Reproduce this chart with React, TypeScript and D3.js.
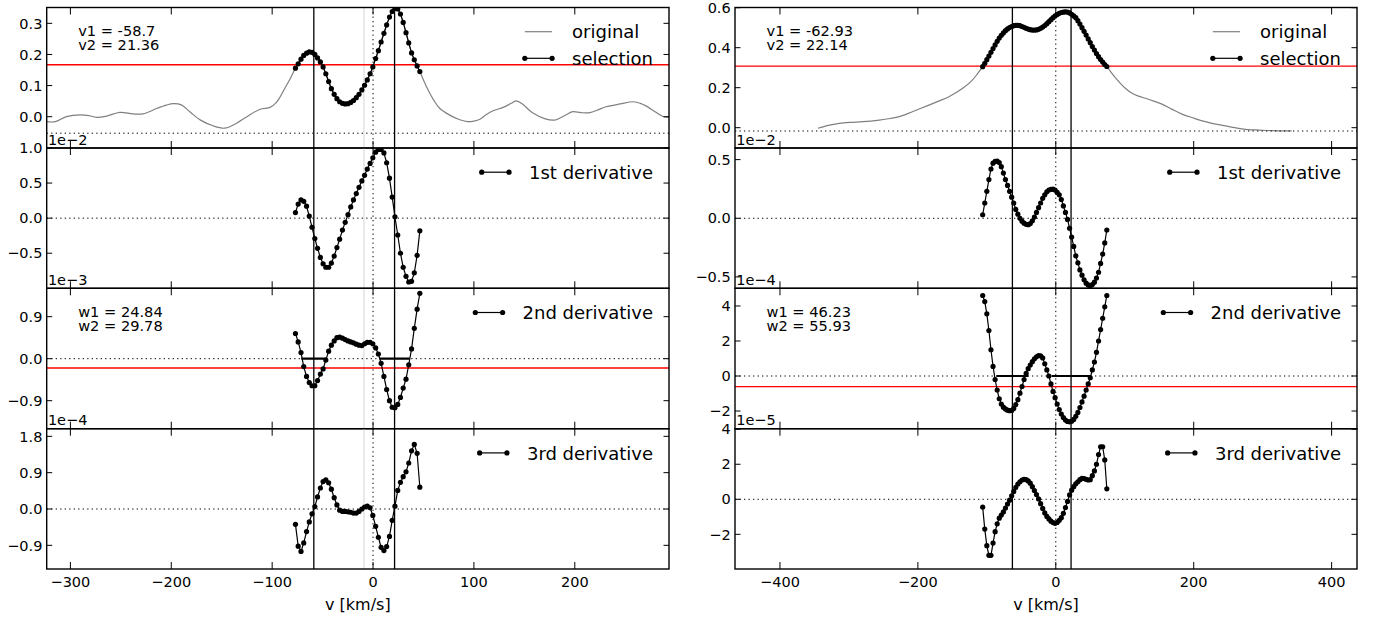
import React from "react";
import * as d3 from "d3";

type Pt = [number, number];

const FONT = "'DejaVu Sans', sans-serif";
const PANEL_EDGES = [7.5, 148, 288.3, 428.7, 569];

// ---------------- LEFT FIGURE DATA ----------------
const L_V1 = -58.7;
const L_V2 = 21.36;
const L_W1 = 24.84;
const L_W2 = 29.78;
const L_MARK = -9;
const L_XTICKS = [-300, -200, -100, 0, 100, 200];
const L_V = [
  -76.9, -74.2, -71.4, -68.7, -65.9, -63.2, -60.5, -57.7, -55.0, -52.2, -49.5, -46.8, -44.0, -41.3, -38.5, -35.8,
  -33.1, -30.3, -27.6, -24.8, -22.1, -19.4, -16.6, -13.9, -11.1, -8.4, -5.7, -2.9, -0.2, 2.6, 5.3, 8.0, 10.8, 13.5,
  16.3, 19.0, 21.7, 24.5, 27.2, 29.9, 32.7, 35.4, 38.2, 40.9, 43.7, 46.4,
];
const L_SEL = [
  0.156, 0.17, 0.185, 0.197, 0.204, 0.208, 0.207, 0.2, 0.189, 0.176, 0.16, 0.138, 0.113, 0.09, 0.072, 0.058, 0.048,
  0.043, 0.041, 0.042, 0.046, 0.052, 0.061, 0.072, 0.086, 0.101, 0.118, 0.138, 0.16, 0.187, 0.212, 0.24, 0.268, 0.295,
  0.32, 0.338, 0.348, 0.346, 0.33, 0.303, 0.27, 0.237, 0.205, 0.183, 0.163, 0.145,
];
const L_D1 = [
  0.08, 0.2, 0.26, 0.24, 0.17, 0.03, -0.13, -0.29, -0.43, -0.56, -0.65, -0.7, -0.7, -0.64, -0.54, -0.42, -0.3, -0.17,
  -0.06, 0.05, 0.16, 0.26, 0.35, 0.44, 0.53, 0.61, 0.7, 0.78, 0.86, 0.94, 0.98, 0.98, 0.93, 0.79, 0.57, 0.3, 0.02,
  -0.24, -0.5, -0.7, -0.83, -0.91, -0.9, -0.78, -0.53, -0.18,
];
const L_D2 = [
  0.54, 0.36, 0.13, -0.17, -0.38, -0.51, -0.58, -0.58, -0.47, -0.33, -0.22, -0.03, 0.16, 0.29, 0.38, 0.45, 0.46, 0.44,
  0.41, 0.38, 0.36, 0.34, 0.31, 0.29, 0.28, 0.32, 0.35, 0.35, 0.32, 0.23, 0.1, -0.1, -0.38, -0.66, -0.9, -1.04, -1.05,
  -0.98, -0.83, -0.63, -0.44, -0.13, 0.21, 0.65, 1.06, 1.4,
];
const L_D3 = [
  -0.38, -0.92, -1.05, -0.84, -0.56, -0.32, -0.12, 0.06, 0.3, 0.52, 0.68, 0.72, 0.65, 0.49, 0.28, 0.1, -0.03, -0.06,
  -0.06, -0.07, -0.08, -0.1, -0.1, -0.06, 0.0, 0.05, 0.07, 0.03, -0.16, -0.43, -0.7, -0.95, -1.03, -0.93, -0.68, -0.28,
  0.07, 0.46, 0.66, 0.8, 0.92, 1.14, 1.44, 1.6, 1.38, 0.54,
];
const L_ORIG_BEFORE: Pt[] = [
  [-323.5, -0.016], [-315, -0.016], [-304, 0.0], [-290, 0.006], [-281, 0.003], [-274, -0.002], [-264, 0.002],
  [-251, 0.014], [-238, 0.009], [-228, 0.009], [-214, 0.027], [-205, 0.037], [-198, 0.042], [-190, 0.038],
  [-181, 0.014], [-171, -0.011], [-158, -0.03], [-147, -0.037], [-138, -0.026], [-125, 0.0], [-112, 0.024],
  [-102, 0.03], [-96, 0.045], [-92, 0.064], [-87, 0.094], [-82, 0.123],
];
const L_ORIG_AFTER: Pt[] = [
  [50, 0.118], [53, 0.096], [60, 0.054], [66, 0.027], [76, 0.005], [86, -0.01], [94, -0.016], [100, -0.014],
  [106, -0.008], [112, 0.006], [119, 0.019], [129, 0.03], [137, 0.043], [142, 0.051], [147, 0.043], [159, 0.011],
  [170, -0.006], [180, -0.011], [190, 0.004], [198, 0.016], [206, 0.013], [215, 0.013], [223, 0.022], [231, 0.032],
  [245, 0.041], [258, 0.048], [265, 0.043], [271, 0.034], [280, 0.015], [288, 0.0], [293.4, -0.002],
];

// ---------------- RIGHT FIGURE DATA ----------------
const R_V1 = -62.93;
const R_V2 = 22.14;
const R_W1 = 46.23;
const R_W2 = 55.93;
const R_XTICKS = [-400, -200, 0, 200, 400];
const R_V = [
  -106, -103, -100, -97, -94, -91, -88, -85, -82, -79, -76, -73, -70, -67, -64, -61, -58, -55, -52, -49, -46, -43, -40,
  -37, -34, -31, -28, -25, -22, -19, -16, -13, -10, -7, -4, -1, 2, 5, 8, 11, 14, 17, 20, 23, 26, 29, 32, 35, 38, 41, 44,
  47, 50, 53, 56, 59, 62, 65, 68, 71, 74,
];
const R_SEL = [
  0.305, 0.322, 0.34, 0.358, 0.377, 0.396, 0.414, 0.432, 0.448, 0.462, 0.474, 0.485, 0.494, 0.501, 0.506, 0.51, 0.512,
  0.512, 0.51, 0.506, 0.502, 0.497, 0.493, 0.49, 0.488, 0.488, 0.489, 0.492, 0.497, 0.503, 0.511, 0.52, 0.53, 0.54,
  0.55, 0.559, 0.566, 0.572, 0.576, 0.578, 0.579, 0.578, 0.574, 0.567, 0.559, 0.55, 0.535, 0.518, 0.5, 0.482, 0.463,
  0.444, 0.425, 0.406, 0.388, 0.371, 0.355, 0.341, 0.328, 0.316, 0.306,
];
const R_D1 = [
  0.03, 0.13, 0.23, 0.33, 0.42, 0.47, 0.485, 0.487, 0.475, 0.44, 0.385, 0.33, 0.28, 0.23, 0.18, 0.13, 0.075, 0.035,
  0.0, -0.025, -0.042, -0.052, -0.055, -0.045, -0.022, 0.01, 0.05, 0.09, 0.13, 0.17, 0.2, 0.225, 0.24, 0.247, 0.248,
  0.24, 0.22, 0.2, 0.16, 0.105, 0.05, -0.01, -0.085, -0.16, -0.24, -0.32, -0.38, -0.44, -0.485, -0.525, -0.553,
  -0.568, -0.575, -0.565, -0.545, -0.51, -0.46, -0.385, -0.305, -0.21, -0.1,
];
const R_D2 = [
  4.6, 4.25, 3.55, 2.6, 1.5, 0.55, -0.2, -0.8, -1.3, -1.6, -1.78, -1.88, -1.95, -1.98, -1.97, -1.85, -1.63, -1.35,
  -0.98, -0.6, -0.2, 0.15, 0.42, 0.63, 0.82, 0.98, 1.1, 1.17, 1.15, 1.03, 0.7, 0.35, 0.0, -0.45, -0.88, -1.24, -1.6,
  -1.92, -2.17, -2.37, -2.52, -2.6, -2.62, -2.58, -2.48, -2.3, -2.08, -1.8, -1.48, -1.15, -0.8, -0.45, -0.1, 0.35,
  0.8, 1.35, 2.0, 2.65, 3.3, 3.95, 4.6,
];
const R_D3 = [
  -0.45, -1.7, -2.65, -3.2, -3.2, -2.5, -1.85, -1.4, -1.08, -0.9, -0.72, -0.5, -0.27, -0.05, 0.2, 0.45, 0.68, 0.87,
  1.0, 1.1, 1.14, 1.12, 1.05, 0.92, 0.72, 0.5, 0.27, 0.02, -0.25, -0.52, -0.78, -0.98, -1.12, -1.25, -1.33, -1.37,
  -1.32, -1.2, -1.05, -0.8, -0.48, -0.12, 0.25, 0.52, 0.72, 0.88, 1.0, 1.12, 1.2, 1.18, 1.14, 1.1, 1.12, 1.35, 1.62,
  2.0, 2.55, 3.0, 3.0, 2.25, 0.6,
];
const R_ORIG_BEFORE: Pt[] = [
  [-345, -0.003], [-330, 0.012], [-314, 0.022], [-297, 0.027], [-280, 0.03], [-256, 0.038], [-240, 0.046],
  [-227, 0.055], [-208, 0.08], [-184, 0.113], [-170, 0.133], [-155, 0.155], [-135, 0.197], [-121, 0.238],
  [-114, 0.268],
];
const R_ORIG_AFTER: Pt[] = [
  [80, 0.278], [86, 0.252], [91.5, 0.23], [100, 0.2], [110.7, 0.172], [120, 0.158], [130, 0.147], [142, 0.133],
  [154, 0.118], [168, 0.093], [183, 0.068], [200, 0.048], [217, 0.03], [230, 0.019], [246, 0.009], [260, 0.0],
  [275, -0.008], [295, -0.012], [313, -0.015], [342, -0.016],
];

// ---------------- configuration ----------------
interface PanelCfg {
  yDomain: [number, number];
  yTicks: number[];
  fmt: string;
  y: number[];
  label?: string;
  before?: Pt[];
  after?: Pt[];
  red?: number;
  hdot: number;
  annot?: string[];
  widths?: boolean;
  offset?: string;
}
interface FigCfg {
  id: string;
  left: number;
  right: number;
  xDomain: [number, number];
  xTicks: number[];
  v: number[];
  v1: number;
  v2: number;
  w1: number;
  w2: number;
  mark?: number;
  panels: PanelCfg[];
}

const LEFT_FIG: FigCfg = {
  id: "L",
  left: 46.7,
  right: 669,
  xDomain: [-323.5, 293.4],
  xTicks: L_XTICKS,
  v: L_V,
  v1: L_V1,
  v2: L_V2,
  w1: L_W1,
  w2: L_W2,
  mark: L_MARK,
  panels: [
    {
      yDomain: [-0.1006, 0.3509], yTicks: [0, 0.1, 0.2, 0.3], fmt: ".1f", y: L_SEL,
      before: L_ORIG_BEFORE, after: L_ORIG_AFTER, red: 0.167, hdot: -0.053,
      annot: [`v1 = ${L_V1}`, `v2 = ${L_V2}`],
    },
    { yDomain: [-1.0, 1.0], yTicks: [-0.5, 0, 0.5, 1.0], fmt: ".1f", y: L_D1, label: "1st derivative", hdot: 0, offset: "1e\u22122" },
    {
      yDomain: [-1.5, 1.508], yTicks: [-0.9, 0, 0.9], fmt: ".1f", y: L_D2, label: "2nd derivative", hdot: 0,
      red: -0.2, annot: [`w1 = ${L_W1}`, `w2 = ${L_W2}`], widths: true, offset: "1e\u22123",
    },
    { yDomain: [-1.486, 1.989], yTicks: [-0.9, 0, 0.9, 1.8], fmt: ".1f", y: L_D3, label: "3rd derivative", hdot: 0, offset: "1e\u22124" },
  ],
};

const RIGHT_FIG: FigCfg = {
  id: "R",
  left: 735,
  right: 1357,
  xDomain: [-465.2, 436.8],
  xTicks: R_XTICKS,
  v: R_V,
  v1: R_V1,
  v2: R_V2,
  w1: R_W1,
  w2: R_W2,
  panels: [
    {
      yDomain: [-0.1015, 0.601], yTicks: [0, 0.2, 0.4, 0.6], fmt: ".1f", y: R_SEL,
      before: R_ORIG_BEFORE, after: R_ORIG_AFTER, red: 0.308, hdot: -0.0165,
      annot: [`v1 = ${R_V1}`, `v2 = ${R_V2}`],
    },
    { yDomain: [-0.597, 0.599], yTicks: [-0.5, 0, 0.5], fmt: ".1f", y: R_D1, label: "1st derivative", hdot: 0, offset: "1e\u22122" },
    {
      yDomain: [-3.01, 5.01], yTicks: [-2, 0, 2, 4], fmt: "d", y: R_D2, label: "2nd derivative", hdot: 0,
      red: -0.61, annot: [`w1 = ${R_W1}`, `w2 = ${R_W2}`], widths: true, offset: "1e\u22124",
    },
    { yDomain: [-3.98, 4.03], yTicks: [-2, 0, 2, 4], fmt: "d", y: R_D3, label: "3rd derivative", hdot: 0, offset: "1e\u22125" },
  ],
};

let measureCtx: CanvasRenderingContext2D | null = null;
function measure(s: string, font: string): number {
  if (!measureCtx) measureCtx = document.createElement("canvas").getContext("2d");
  if (!measureCtx) return s.length * 10;
  measureCtx.font = font;
  return measureCtx.measureText(s).width;
}

const DOT = "1.3 3.2";
const TICK_FS = 14.5;
const LEG_FS = 18;
const ANNOT_FS = 14.6;

function Figure({ f }: { f: FigCfg }) {
  const x = d3.scaleLinear().domain(f.xDomain).range([f.left, f.right]);
  const xt = f.xTicks;
  return (
    <g>
      {f.panels.map((p, i) => {
        const top = PANEL_EDGES[i];
        const bot = PANEL_EDGES[i + 1];
        const y = d3.scaleLinear().domain(p.yDomain).range([bot, top]);
        const pts: Pt[] = f.v.map((v, k) => [v, p.y[k]]);
        const line = d3.line<Pt>().x((d) => x(d[0])).y((d) => y(d[1]));
        const smooth = d3
          .line<Pt>()
          .x((d) => x(d[0]))
          .y((d) => y(d[1]))
          .curve(d3.curveCatmullRom.alpha(0.5));
        const fmt = d3.format(p.fmt);
        const clip = `${f.id}clip${i}`;
        const entries = p.before
          ? [
              { label: "original", kind: "gray" },
              { label: "selection", kind: "sel" },
            ]
          : [{ label: p.label || "", kind: "sel" }];
        const maxW = Math.max(...entries.map((e) => measure(e.label, `${LEG_FS}px DejaVu Sans`)));
        const tx = f.right - 16 - maxW;
        const orig = p.before ? [...p.before, ...pts, ...(p.after || [])] : null;
        return (
          <g key={i}>
            <defs>
              <clipPath id={clip}>
                <rect x={f.left} y={top} width={f.right - f.left} height={bot - top} />
              </clipPath>
            </defs>
            <g clipPath={`url(#${clip})`}>
              {f.mark !== undefined && (
                <line x1={x(f.mark)} x2={x(f.mark)} y1={top} y2={bot} stroke="#e3e3e3" strokeWidth={1.5} />
              )}
              {orig && <path d={smooth(orig) || ""} fill="none" stroke="#808080" strokeWidth={1.2} />}
              <line x1={f.left} x2={f.right} y1={y(p.hdot)} y2={y(p.hdot)} stroke="#000" strokeWidth={1} strokeDasharray={DOT} />
              <line x1={x(0)} x2={x(0)} y1={top} y2={bot} stroke="#000" strokeWidth={1} strokeDasharray={DOT} />
              {p.red !== undefined && (
                <line x1={f.left} x2={f.right} y1={y(p.red)} y2={y(p.red)} stroke="#ff0000" strokeWidth={1.3} />
              )}
              <path d={line(pts) || ""} fill="none" stroke="#000" strokeWidth={1.2} />
              {pts.map((d, k) => (
                <circle key={k} cx={x(d[0])} cy={y(d[1])} r={2.6} fill="#000" />
              ))}
              {p.widths && (
                <g stroke="#000" strokeWidth={2.2}>
                  <line x1={x(f.v1 - f.w1 / 2)} x2={x(f.v1 + f.w1 / 2)} y1={y(0)} y2={y(0)} />
                  <line x1={x(f.v2 - f.w2 / 2)} x2={x(f.v2 + f.w2 / 2)} y1={y(0)} y2={y(0)} />
                </g>
              )}
              <line x1={x(f.v1)} x2={x(f.v1)} y1={top} y2={bot} stroke="#000" strokeWidth={1.3} />
              <line x1={x(f.v2)} x2={x(f.v2)} y1={top} y2={bot} stroke="#000" strokeWidth={1.3} />
            </g>
            {p.annot && (
              <g fontSize={ANNOT_FS} fontFamily={FONT}>
                {p.annot.map((s, k) => (
                  <text key={k} x={f.left + 31.5} y={top + 28.5 + k * 14} textLength={undefined}>
                    {s}
                  </text>
                ))}
              </g>
            )}
            {entries.map((e, k) => {
              const cy = top + 24.2 + k * 26.6;
              return (
                <g key={k}>
                  {e.kind === "gray" ? (
                    <line x1={tx - 47.3} x2={tx - 20} y1={cy} y2={cy} stroke="#808080" strokeWidth={1.2} />
                  ) : (
                    <g>
                      <line x1={tx - 47.3} x2={tx - 20} y1={cy} y2={cy} stroke="#000" strokeWidth={1.2} />
                      <circle cx={tx - 47.3} cy={cy} r={2.6} fill="#000" />
                      <circle cx={tx - 20} cy={cy} r={2.6} fill="#000" />
                    </g>
                  )}
                  <text x={tx} y={cy + 6.6} fontSize={LEG_FS} fontFamily={FONT}>
                    {e.label}
                  </text>
                </g>
              );
            })}
            <rect x={f.left} y={top} width={f.right - f.left} height={bot - top} fill="none" stroke="#000" strokeWidth={1.4} />
            <g stroke="#000" strokeWidth={1}>
              {xt.map((t) => (
                <g key={t}>
                  <line x1={x(t)} x2={x(t)} y1={top} y2={top + 7} />
                  <line x1={x(t)} x2={x(t)} y1={bot} y2={bot - 7} />
                </g>
              ))}
              {p.yTicks.map((t) => (
                <g key={t}>
                  <line x1={f.left} x2={f.left + 5.5} y1={y(t)} y2={y(t)} />
                  <line x1={f.right} x2={f.right - 5.5} y1={y(t)} y2={y(t)} />
                </g>
              ))}
            </g>
            <g fontSize={TICK_FS} fontFamily={FONT} textAnchor="end">
              {p.yTicks.map((t) => (
                <text key={t} x={f.left - 4.3} y={y(t) + 5.2}>
                  {fmt(t)}
                </text>
              ))}
            </g>
          </g>
        );
      })}
      {f.panels.map((p, i) =>
        p.offset ? (
          <text key={"o" + i} x={f.left + 1.2} y={PANEL_EDGES[i] - 3.5} fontSize={TICK_FS} fontFamily={FONT}>
            {p.offset}
          </text>
        ) : null
      )}
      <g fontSize={TICK_FS} fontFamily={FONT} textAnchor="middle">
        {xt.map((t) => (
          <text key={t} x={x(t)} y={586.7}>
            {d3.format("d")(t)}
          </text>
        ))}
      </g>
      <text x={(f.left + f.right) / 2} y={609.5} fontSize={16} fontFamily={FONT} textAnchor="middle">
        v [km/s]
      </text>
    </g>
  );
}

export default function App() {
  return (
    <svg
      width={1374}
      height={617}
      style={{ position: "absolute", left: 0, top: 0, background: "#fff" }}
      xmlns="http://www.w3.org/2000/svg"
    >
      <rect x={0} y={0} width={1374} height={617} fill="#fff" />
      <Figure f={LEFT_FIG} />
      <Figure f={RIGHT_FIG} />
    </svg>
  );
}
